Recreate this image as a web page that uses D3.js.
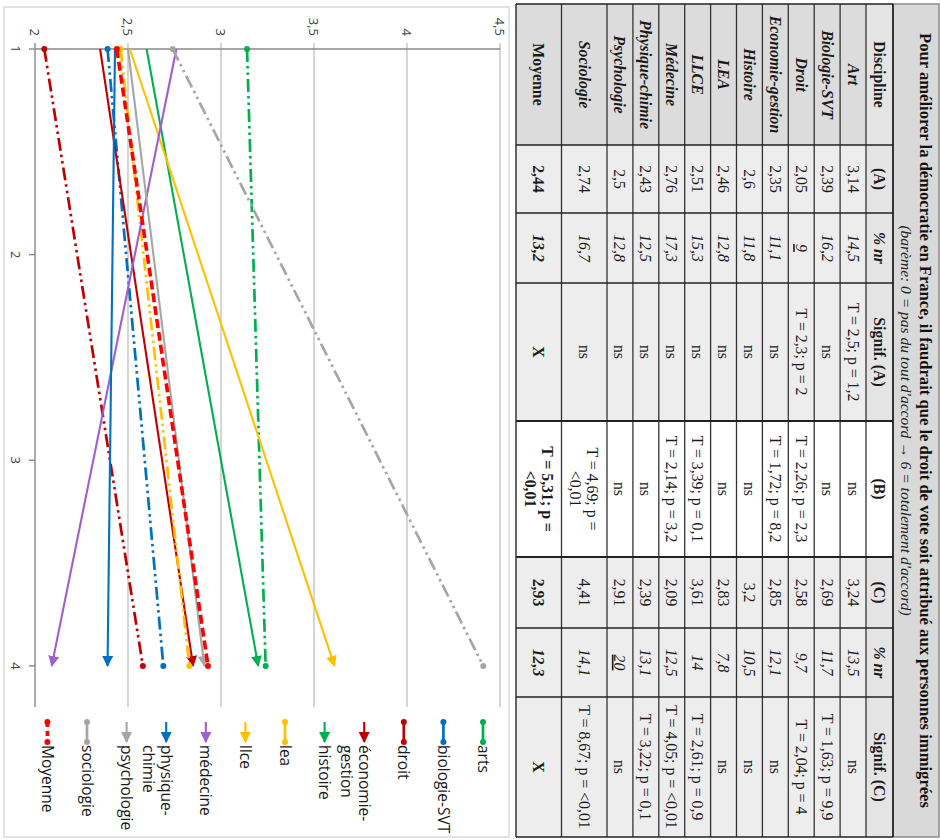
<!DOCTYPE html>
<html><head><meta charset="utf-8">
<script src="https://cdn.jsdelivr.net/npm/d3@7"></script>
<style>body{margin:0;background:#fff}svg{display:block}</style>
</head><body>
<svg id="c" width="940" height="840"></svg>
<script>
// ---------- DATA ----------
const title = "Pour améliorer la démocratie en France, il faudrait que le droit de vote soit attribué aux personnes immigrées";
const subtitle = "(barème: 0 = pas du tout d'accord → 6 = totalement d'accord)";
const headers = ["Discipline","(A)","% nr","Signif. (A)","(B)","(C)","% nr","Signif. (C)"];
const disciplines = ["Art","Biologie-SVT","Droit","Economie-gestion","Histoire","LEA","LLCE","Médecine","Physique-chimie","Psychologie","Sociologie","Moyenne"];
const scoreA = [3.14,2.39,2.05,2.35,2.6,2.46,2.51,2.76,2.43,2.5,2.74,2.44];
const nrA = [14.5,16.2,9,11.1,11.8,12.8,15.3,17.3,12.5,12.8,16.7,13.2];
const signifA = ["T = 2,5; p = 1,2","ns","T = 2,3; p = 2","ns","ns","ns","ns","ns","ns","ns","ns","X"];
const signifB = ["ns","ns","T = 2,26; p = 2,3","T = 1,72; p = 8,2","ns","ns","T = 3,39; p = 0,1","T = 2,14; p = 3,2","ns","ns","T = 4,69; p =\n<0,01","T = 5,31; p =\n<0,01"];
const scoreC = [3.24,2.69,2.58,2.85,3.2,2.83,3.61,2.09,2.39,2.91,4.41,2.93];
const nrC = [13.5,11.7,9.7,12.1,10.5,7.8,14,12.5,13.1,20,14.1,12.3];
const signifC = ["ns","T = 1,63; p = 9,9","T = 2,04; p = 4","ns","ns","ns","T = 2,61; p = 0,9","T = 4,05; p = <0,01","T = 3,22; p = 0,1","ns","T = 8,67; p = <0,01","X"];

const seriesNames = ["arts","biologie-SVT","droit","économie-gestion","histoire","lea","llce","médecine","physique-chimie","psychologie","sociologie","Moyenne"];
const categoryTicks = [1,2,3,4];
const valueTicks = [2,2.5,3,3.5,4,4.5];
const valueTickLabels = ["2","2,5","3","3,5","4","4,5"];

// ---------- STYLES ----------
const seriesStyle = [
  {color:"#00b050", dash:"dd", mark:"circle"},
  {color:"#0070c0", dash:"dd", mark:"circle"},
  {color:"#c00000", dash:"dd", mark:"circle"},
  {color:"#c00000", dash:null, mark:"arrow"},
  {color:"#00b050", dash:null, mark:"arrow"},
  {color:"#ffc000", dash:"dd", mark:"circle"},
  {color:"#ffc000", dash:null, mark:"arrow"},
  {color:"#a05fd0", dash:null, mark:"arrow"},
  {color:"#0070c0", dash:null, mark:"arrow"},
  {color:"#a6a6a6", dash:null, mark:"arrow"},
  {color:"#a6a6a6", dash:"dd", mark:"circle"},
  {color:"#ff0000", dash:"dash", mark:"circle"}
];
const dashes = {dd:"13,4,2.5,4,2.5,4", dash:"9,4"};
// [row index in table incl. header]-[column index]
const underlined = new Set(["3-2","10-6"]);
const fmt = v => String(v).replace(".", ",");

// ---------- SETUP (drawn in upright frame, then rotated) ----------
const svg = d3.select("#c");
const root = svg.append("g").attr("transform","translate(940,0) rotate(90)");
const defs = svg.append("defs");

// ---------- TABLE ----------
const colEdges = [4,145,213,283,421,557,628,697,837];
const serif = "'Liberation Serif','Times New Roman',serif";
const tbl = root.append("g").attr("font-family", serif);

tbl.append("rect").attr("x",colEdges[0]).attr("y",1).attr("width",colEdges[8]-colEdges[0]).attr("height",46)
  .attr("fill","#d9d9d9").attr("stroke","#8c8c8c").attr("stroke-width",1.5);
const midX = (colEdges[0]+colEdges[8])/2;
tbl.append("text").attr("x",midX).attr("y",20).attr("text-anchor","middle")
  .attr("font-weight","bold").attr("font-size",16.6).attr("fill","#111").text(title);
tbl.append("text").attr("x",midX).attr("y",39.5).attr("text-anchor","middle")
  .attr("font-style","italic").attr("font-size",15.5).attr("fill","#222").text(subtitle);

const rows = [headers].concat(disciplines.map((d,i)=>[d, fmt(scoreA[i]), fmt(nrA[i]), signifA[i], signifB[i], fmt(scoreC[i]), fmt(nrC[i]), signifC[i]]));
let yy = 47;
const rowY = rows.map((r,ri)=>{
  const lines = d3.max(r, c=>String(c).split("\n").length);
  const h = ri===0 ? 27 : (lines>1 ? 45.5 : 25.9);
  const o = {y:yy, h:h}; yy += h; return o;
});
rows.forEach((r,ri)=>{
  const isHead = ri===0, isMean = ri===rows.length-1;
  r.forEach((c,ci)=>{
    const x0 = colEdges[ci], x1 = colEdges[ci+1];
    const {y,h} = rowY[ri];
    let fill = ci===0 ? "#dcdcdc" : (ci===4 ? "#ffffff" : "#ededed");
    if (isHead && ci!==4) fill = "#e4e4e4";
    tbl.append("rect").attr("x",x0).attr("y",y).attr("width",x1-x0).attr("height",h).attr("fill",fill);
    const italic = (!isHead && ci===0 && !isMean) || ci===2 || ci===6;
    const bold = isHead || ci===0 || isMean;
    const lines = String(c).split("\n");
    const t = tbl.append("text").attr("x",(x0+x1)/2).attr("text-anchor","middle")
      .attr("font-size",15.8).attr("fill","#1a1a1a")
      .attr("font-weight", bold?"bold":"normal").attr("font-style", italic?"italic":"normal")
      .attr("text-decoration", underlined.has(ri+"-"+ci) ? "underline" : null);
    const lh = 17;
    lines.forEach((ln,li)=>{
      t.append("tspan").attr("x",(x0+x1)/2)
        .attr("y", y + h/2 + 5.5 + (li-(lines.length-1)/2)*lh).text(ln);
    });
  });
});
rowY.forEach((r,ri)=>{
  tbl.append("line").attr("x1",colEdges[0]).attr("x2",colEdges[8]).attr("y1",r.y).attr("y2",r.y)
    .attr("stroke","#333").attr("stroke-width", ri===0?2:1.3);
});
tbl.append("line").attr("x1",colEdges[0]).attr("x2",colEdges[8]).attr("y1",yy).attr("y2",yy).attr("stroke","#333").attr("stroke-width",1.5);
colEdges.forEach((cx,ci)=>{
  tbl.append("line").attr("x1",cx).attr("x2",cx).attr("y1",47).attr("y2",yy)
    .attr("stroke","#222").attr("stroke-width", (ci===4||ci===5)?2.2:1.6);
});

// ---------- CHART ----------
const ch = root.append("g").attr("font-family","'Open Sans','Noto Sans',sans-serif");
ch.append("rect").attr("x",7).attr("y",431).attr("width",830).attr("height",505)
  .attr("fill","#fff").attr("stroke","#d0d0d0").attr("stroke-width",1.2);

const x = d3.scaleLinear().domain([1,4.2]).range([49,707]);
const y = d3.scaleLinear().domain([2,4.5]).range([905,440]);

ch.selectAll(".grid").data(valueTicks.slice(1)).join("line")
  .attr("x1",x(1)-6).attr("x2",x(4.2)).attr("y1",d=>y(d)).attr("y2",d=>y(d))
  .attr("stroke","#c4c4c4").attr("stroke-width",1.4);
ch.append("line").attr("x1",x(1)-6).attr("x2",x(4.2)).attr("y1",y(2)).attr("y2",y(2)).attr("stroke","#8a8a8a").attr("stroke-width",1.4);
ch.append("line").attr("x1",x(1)).attr("x2",x(1)).attr("y1",y(2)).attr("y2",y(4.5)).attr("stroke","#8a8a8a").attr("stroke-width",1.4);
ch.selectAll(".ct").data(categoryTicks).join("line")
  .attr("x1",d=>x(d)).attr("x2",d=>x(d)).attr("y1",y(2)).attr("y2",y(2)+6)
  .attr("stroke","#8a8a8a").attr("stroke-width",1.4);
ch.selectAll(".vl").data(valueTicks).join("text")
  .attr("x",x(1)-13).attr("y",d=>y(d)).attr("dy","0.35em").attr("text-anchor","end")
  .attr("font-size",13).attr("fill","#404040").text((d,i)=>valueTickLabels[i]);
ch.selectAll(".cl").data(categoryTicks).join("text")
  .attr("x",d=>x(d)).attr("y",y(2)+24).attr("text-anchor","middle")
  .attr("font-size",13).attr("fill","#404040").text(d=>d);

seriesStyle.forEach((s,i)=>{
  defs.append("marker").attr("id","arr"+i).attr("viewBox","0 -5 10 10")
    .attr("refX",9).attr("refY",0).attr("markerUnits","userSpaceOnUse")
    .attr("markerWidth",11).attr("markerHeight",11).attr("orient","auto")
    .append("path").attr("d","M0,-5L10,0L0,5Z").attr("fill",s.color);
});

const line = d3.line().x(d=>x(d[0])).y(d=>y(d[1]));
seriesNames.forEach((name,i)=>{
  const s = seriesStyle[i];
  const pts = [[1,scoreA[i]],[4,scoreC[i]]];
  const sw = s.dash==="dash" ? 3.6 : (s.dash ? 2.7 : 2.1);
  const p = ch.append("path").attr("d",line(pts)).attr("fill","none")
    .attr("stroke",s.color).attr("stroke-width",sw)
    .attr("stroke-dasharray", s.dash ? dashes[s.dash] : null);
  if (s.mark==="arrow") p.attr("marker-end","url(#arr"+i+")");
  else pts.forEach(pt=>ch.append("circle").attr("cx",x(pt[0])).attr("cy",y(pt[1])).attr("r",3).attr("fill",s.color));
});

const lg = ch.append("g");
seriesNames.forEach((name,i)=>{
  const s = seriesStyle[i];
  const ly = 457 + i*39.6;
  const x0 = 722, x1 = 742;
  const sw = s.dash==="dash" ? 3.6 : (s.dash ? 2.7 : 2.1);
  const l = lg.append("line").attr("x1",x0).attr("x2",x1).attr("y1",ly).attr("y2",ly)
    .attr("stroke",s.color).attr("stroke-width",sw)
    .attr("stroke-dasharray", s.dash==="dash" ? "5,4" : null);
  if (s.mark==="arrow") l.attr("marker-end","url(#arr"+i+")");
  else [x0,x1].forEach(cx=>lg.append("circle").attr("cx",cx).attr("cy",ly).attr("r",3).attr("fill",s.color));
  const t = lg.append("text").attr("x",745).attr("y",ly).attr("dy","0.35em")
    .attr("font-size",15.5).attr("fill","#1a1a1a").text(name);
  if (t.node().getComputedTextLength() > 100 && name.includes("-")) {
    const k = name.indexOf("-")+1;
    t.text(null);
    t.append("tspan").attr("x",745).text(name.slice(0,k));
    t.append("tspan").attr("x",745).attr("dy","1.15em").text(name.slice(k));
  }
});
</script>
</body></html>
